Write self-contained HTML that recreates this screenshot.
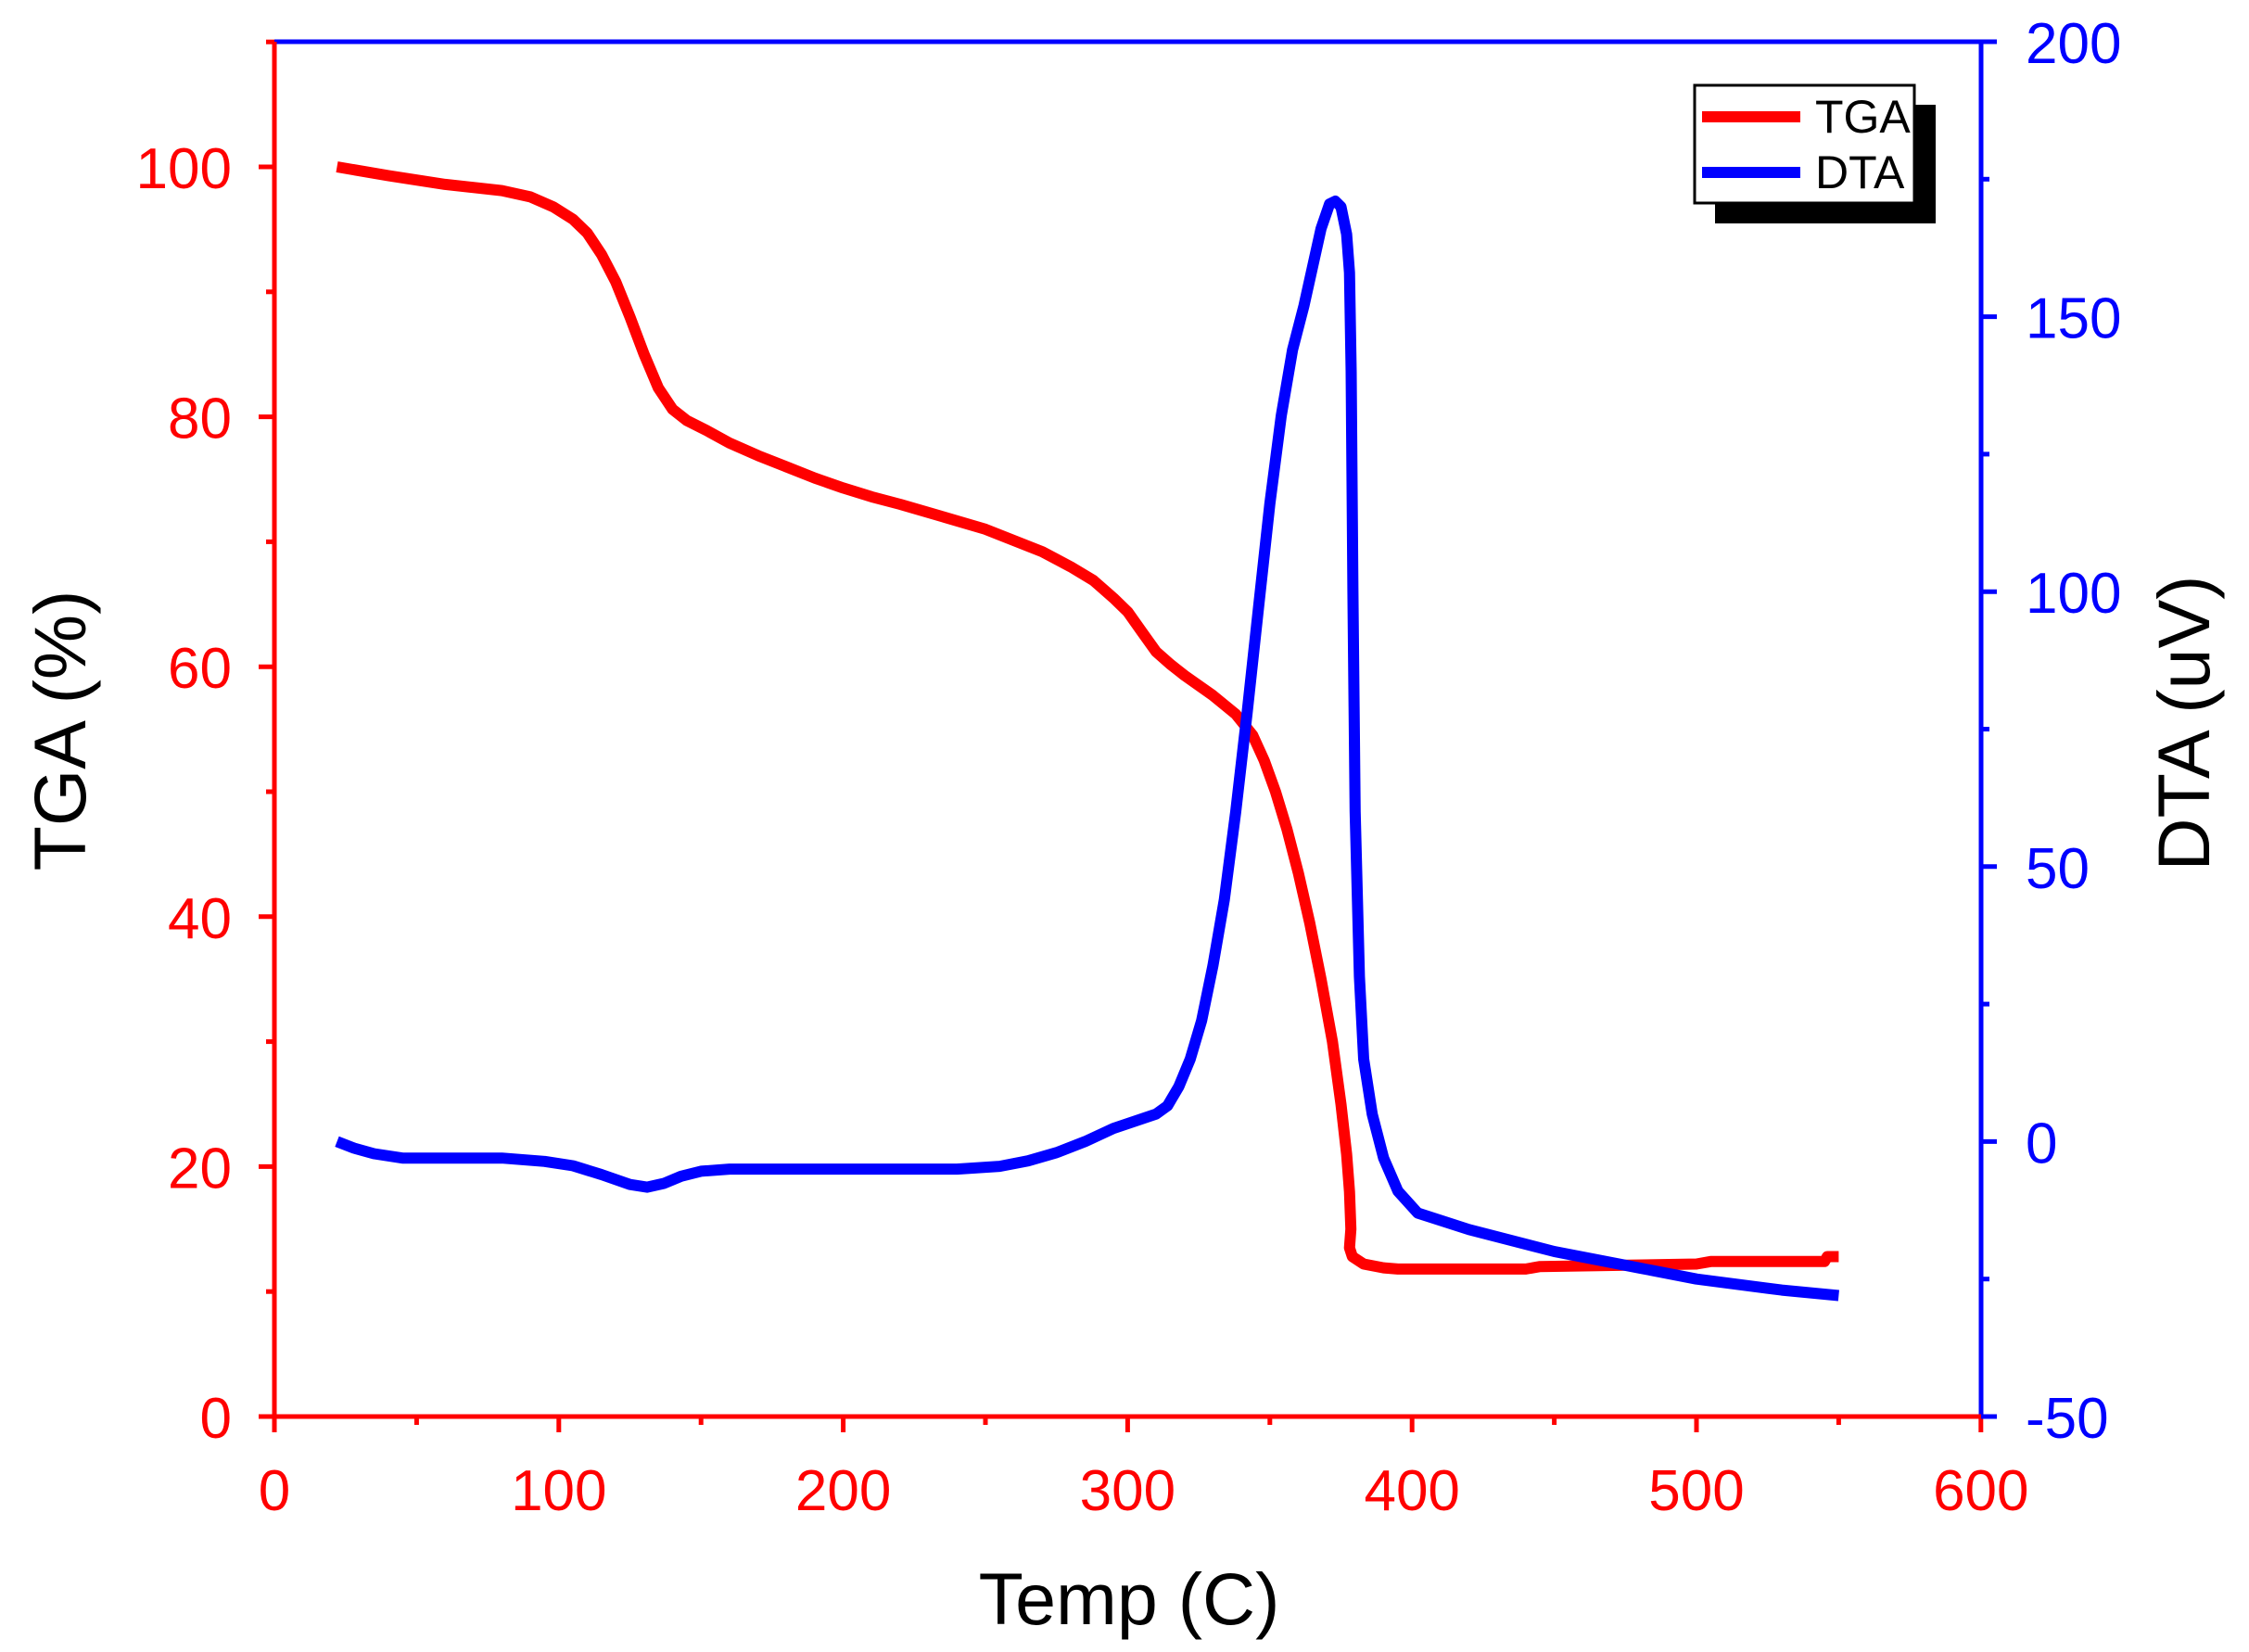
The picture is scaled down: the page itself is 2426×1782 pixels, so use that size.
<!DOCTYPE html>
<html><head><meta charset="utf-8"><style>
html,body{margin:0;padding:0;background:#fff}
svg{display:block}
text{font-family:"Liberation Sans",sans-serif}
</style></head><body>
<svg id="s" width="2426" height="1782" viewBox="0 0 2426 1782" xmlns="http://www.w3.org/2000/svg">
<rect width="2426" height="1782" fill="#fff"/>
<g id="ticks"></g>
<polyline id="tga" fill="none" stroke="#ff0000" stroke-width="12" stroke-linejoin="round" stroke-linecap="butt"/>
<polyline id="dta" fill="none" stroke="#0000ff" stroke-width="12" stroke-linejoin="round" stroke-linecap="butt"/>
<line x1="296" y1="45" x2="2137" y2="45" stroke="#0000ff" stroke-width="5"/>
<line x1="2137" y1="45" x2="2137" y2="1528" stroke="#0000ff" stroke-width="5"/>
<line x1="296" y1="45" x2="296" y2="1543" stroke="#ff0000" stroke-width="5"/>
<line x1="281" y1="1528" x2="2137" y2="1528" stroke="#ff0000" stroke-width="5"/>
<!-- legend -->
<rect x="1850" y="113" width="238" height="128" fill="#000"/>
<rect x="1828" y="92" width="237" height="127" fill="#fff" stroke="#000" stroke-width="3"/>
<line x1="1836" y1="126" x2="1942" y2="126" stroke="#ff0000" stroke-width="12"/>
<line x1="1836" y1="186" x2="1942" y2="186" stroke="#0000ff" stroke-width="12"/>
<text x="1958" y="143" font-size="50" fill="#000">TGA</text>
<text x="1958" y="203" font-size="50" fill="#000">DTA</text>
<text x="1218" y="1752" font-size="79" text-anchor="middle" fill="#000">Temp (C)</text>
<text transform="translate(92,788) rotate(-90)" font-size="79" text-anchor="middle" fill="#000">TGA (%)</text>
<text transform="translate(2383,780) rotate(-90)" font-size="79" text-anchor="middle" fill="#000">DTA (uV)</text>
</svg>
<script>
var NS="http://www.w3.org/2000/svg";
function X(t){return 296+t*3.068;}
function YT(v){return 1528-v*13.48;}
function YD(v){return 1528-(v+50)*5.932;}
var g=document.getElementById('ticks');
function el(n,a,txt){var e=document.createElementNS(NS,n);for(var k in a)e.setAttribute(k,a[k]);if(txt!==undefined)e.textContent=txt;g.appendChild(e);}
for(var t=0;t<=600;t+=50){var x=X(t),maj=t%100==0;
 el('line',{x1:x,y1:1528,x2:x,y2:1528+(maj?17:9),stroke:'#ff0000','stroke-width':5});
 if(maj)el('text',{x:x,y:1629,'font-size':62,'text-anchor':'middle',fill:'#ff0000'},String(t));}
for(var v=0;v<=110;v+=10){var y=YT(v),maj=v%20==0;
 el('line',{x1:296,y1:y,x2:296-(maj?17:9),y2:y,stroke:'#ff0000','stroke-width':5});
 if(maj)el('text',{x:250,y:y+23,'font-size':62,'text-anchor':'end',fill:'#ff0000'},String(v));}
for(var v=-50;v<=200;v+=25){var y=YD(v),maj=v%50==0;
 el('line',{x1:2137,y1:y,x2:2137+(maj?17:9),y2:y,stroke:'#0000ff','stroke-width':5});
 if(maj)el('text',{x:2185,y:y+23,'font-size':62,fill:'#0000ff'},String(v));}
var tga=[[22,100],[40,99.3],[60,98.6],[80,98.1],[90,97.6],[98,96.8],[105,95.8],[110,94.7],[115,93],[120,90.8],[125,88],[130,85],[135,82.3],[140,80.6],[145,79.7],[152,78.9],[160,77.9],[170,76.9],[180,76],[190,75.1],[200,74.3],[210,73.6],[220,73],[235,72],[250,71],[260,70.1],[270,69.2],[280,68],[288,66.9],[295,65.5],[300,64.4],[305,62.8],[310,61.2],[315,60.2],[320,59.3],[330,57.7],[338,56.2],[344,54.5],[348,52.5],[352,50],[356,47],[360,43.5],[364,39.5],[368,35],[372,30],[375,25],[377,21],[378,18],[378.5,15],[378,13.5],[379,12.8],[383,12.2],[390,11.9],[395,11.8],[440,11.8],[445,12],[500,12.2],[505,12.4],[545,12.4],[546,12.8],[550,12.8]];
var dta=[[22,0],[28,-1.2],[35,-2.2],[45,-3],[80,-3],[95,-3.6],[105,-4.4],[115,-6],[125,-7.8],[131,-8.3],[137,-7.6],[143,-6.3],[150,-5.4],[160,-5],[200,-5],[240,-5],[255,-4.5],[265,-3.5],[275,-2],[285,0],[295,2.4],[303,3.8],[310,5],[314,6.5],[318,10],[322,15],[326,22],[330,32],[334,44],[338,60],[342,78],[346,97],[350,116],[354,132],[358,144],[362,152],[365,159],[368,166],[371,170.5],[373,171],[375,170],[377,165],[378,158],[378.6,140],[379.2,100],[380,60],[381.5,30],[383,15],[386,5],[390,-3],[395,-9],[402,-13],[420,-16],[450,-20],[480,-23],[500,-25],[530,-27],[550,-28]];
document.getElementById('tga').setAttribute('points',tga.map(function(p){return X(p[0]).toFixed(1)+','+YT(p[1]).toFixed(1);}).join(' '));
document.getElementById('dta').setAttribute('points',dta.map(function(p){return X(p[0]).toFixed(1)+','+YD(p[1]).toFixed(1);}).join(' '));
</script>
</body></html>
